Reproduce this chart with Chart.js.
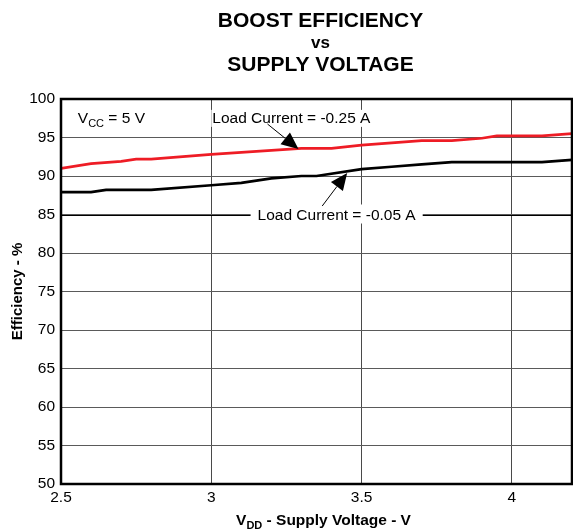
<!DOCTYPE html>
<html>
<head>
<meta charset="utf-8">
<script src="https://cdn.jsdelivr.net/npm/chart.js@4.4.0/dist/chart.umd.min.js"></script>
<style>
  html, body { margin: 0; padding: 0; background: #ffffff; }
  #wrap { width: 573px; height: 531px; position: relative; }
</style>
</head>
<body>
<div id="wrap"><canvas id="c" width="573" height="531"></canvas></div>
<script>
// ---- Data ----
const redVolts   = [2.5, 2.6, 2.7, 2.75, 2.8, 3.0, 3.3, 3.4, 3.5, 3.6, 3.7, 3.8, 3.9, 3.95, 4.1, 4.2];
const redEff     = [91.0, 91.6, 91.9, 92.2, 92.2, 92.8, 93.6, 93.6, 94.0, 94.3, 94.6, 94.6, 94.9, 95.2, 95.2, 95.5];
const blackVolts = [2.5, 2.6, 2.65, 2.8, 3.0, 3.1, 3.2, 3.3, 3.35, 3.5, 3.6, 3.7, 3.8, 4.1, 4.2];
const blackEff   = [87.9, 87.9, 88.2, 88.2, 88.8, 89.1, 89.7, 90.0, 90.0, 90.9, 91.2, 91.5, 91.8, 91.8, 92.1];
const xTicks = [2.5, 3, 3.5, 4];
const yTicks = [50, 55, 60, 65, 70, 75, 80, 85, 90, 95, 100];
const seriesLabels = ['Load Current = -0.25 A', 'Load Current = -0.05 A'];

const FONT = '"Liberation Sans", Arial, Helvetica, sans-serif';

function toXY(xs, ys) { return xs.map((x, i) => ({ x: x, y: ys[i] })); }

// draw text made of parts (for subscripts)
function richWidth(ctx, parts) {
  let w = 0;
  parts.forEach(p => { ctx.font = p.font; w += ctx.measureText(p.t).width; });
  return w;
}
function drawRich(ctx, parts, x, y, align) {
  const w = richWidth(ctx, parts);
  let cx = align === 'center' ? x - w / 2 : (align === 'right' ? x - w : x);
  ctx.textBaseline = 'alphabetic';
  ctx.textAlign = 'left';
  parts.forEach(p => {
    ctx.font = p.font;
    ctx.fillText(p.t, cx, y + (p.dy || 0));
    cx += ctx.measureText(p.t).width;
  });
  return w;
}

function arrow(ctx, x1, y1, x2, y2) {
  const ang = Math.atan2(y2 - y1, x2 - x1);
  const hl = 17, hw = 7.5;
  const bx = x2 - hl * Math.cos(ang), by = y2 - hl * Math.sin(ang);
  ctx.beginPath();
  ctx.moveTo(x1, y1);
  ctx.lineTo(bx, by);
  ctx.lineWidth = 1;
  ctx.strokeStyle = '#000';
  ctx.stroke();
  ctx.beginPath();
  ctx.moveTo(x2, y2);
  ctx.lineTo(bx + hw * Math.sin(ang), by - hw * Math.cos(ang));
  ctx.lineTo(bx - hw * Math.sin(ang), by + hw * Math.cos(ang));
  ctx.closePath();
  ctx.fillStyle = '#000';
  ctx.fill();
}

const decor = {
  id: 'decor',
  afterDatasetsDraw(chart) {
    const ctx = chart.ctx;
    const xs = chart.scales.x, ys = chart.scales.y;
    const a = chart.chartArea;
    ctx.save();
    ctx.fillStyle = '#000';
    // V_CC label
    drawRich(ctx, [
      { t: 'V', font: '15.5px ' + FONT },
      { t: 'CC', font: '11px ' + FONT, dy: 4 },
      { t: ' = 5 V', font: '15.5px ' + FONT }
    ], xs.getPixelForValue(2.556), ys.getPixelForValue(96.9), 'left');

    // label 1 with white background
    ctx.font = '15.5px ' + FONT;
    const l1x = xs.getPixelForValue(3.0) + 1, l1y = ys.getPixelForValue(96.9);
    const w1 = ctx.measureText(seriesLabels[0]).width;
    ctx.fillStyle = '#fff';
    ctx.fillRect(l1x - 1, l1y - 13, w1 + 4, 17);
    ctx.fillStyle = '#000';
    ctx.textAlign = 'left'; ctx.textBaseline = 'alphabetic';
    ctx.fillText(seriesLabels[0], l1x, l1y);

    // label 2 leader line on 85 and white box
    const y85 = ys.getPixelForValue(85);
    ctx.beginPath();
    ctx.moveTo(a.left, Math.round(y85) + 0.5);
    ctx.lineTo(a.right, Math.round(y85) + 0.5);
    ctx.lineWidth = 1; ctx.strokeStyle = '#000'; ctx.stroke();
    const l2c = xs.getPixelForValue(3.417);
    const w2 = ctx.measureText(seriesLabels[1]).width;
    ctx.fillStyle = '#fff';
    ctx.fillRect(l2c - w2 / 2 - 7, y85 - 10, w2 + 14, 19);
    ctx.fillStyle = '#000';
    ctx.textAlign = 'center';
    ctx.fillText(seriesLabels[1], l2c, y85 + 5.5);

    // arrows
    arrow(ctx, xs.getPixelForValue(3.187), ys.getPixelForValue(96.75), xs.getPixelForValue(3.29), ys.getPixelForValue(93.5));
    arrow(ctx, xs.getPixelForValue(3.369), ys.getPixelForValue(86.1), xs.getPixelForValue(3.452), ys.getPixelForValue(90.4));

    // frame
    ctx.lineWidth = 2.5;
    ctx.strokeStyle = '#000';
    ctx.strokeRect(a.left, a.top, a.right - a.left, a.bottom - a.top);

    // Titles
    ctx.fillStyle = '#000';
    ctx.textAlign = 'center';
    ctx.textBaseline = 'alphabetic';
    const tc = (a.left + a.right) / 2 + 4;
    ctx.font = 'bold 21px ' + FONT;
    ctx.fillText('BOOST EFFICIENCY', tc, 27);
    ctx.font = 'bold 17px ' + FONT;
    ctx.fillText('vs', tc, 47.5);
    ctx.font = 'bold 21px ' + FONT;
    ctx.fillText('SUPPLY VOLTAGE', tc, 71);

    // x axis title
    drawRich(ctx, [
      { t: 'V', font: 'bold 15.5px ' + FONT },
      { t: 'DD', font: 'bold 11px ' + FONT, dy: 4 },
      { t: ' - Supply Voltage - V', font: 'bold 15.5px ' + FONT }
    ], tc + 3, 525, 'center');

    // y axis title
    ctx.save();
    ctx.translate(22, (a.top + a.bottom) / 2);
    ctx.rotate(-Math.PI / 2);
    ctx.font = 'bold 15px ' + FONT;
    ctx.textAlign = 'center';
    ctx.textBaseline = 'alphabetic';
    ctx.fillText('Efficiency - %', 0, 0);
    ctx.restore();

    ctx.restore();
  }
};

new Chart(document.getElementById('c'), {
  type: 'line',
  data: {
    datasets: [
      { label: seriesLabels[0], data: toXY(redVolts, redEff), borderColor: '#ee1c25', borderWidth: 2.7, pointRadius: 0, tension: 0, fill: false },
      { label: seriesLabels[1], data: toXY(blackVolts, blackEff), borderColor: '#000000', borderWidth: 2.7, pointRadius: 0, tension: 0, fill: false }
    ]
  },
  options: {
    responsive: false,
    animation: false,
    events: [],
    layout: { padding: { top: 99, right: 1, left: 0, bottom: 0 } },
    plugins: { legend: { display: false }, tooltip: { enabled: false }, title: { display: false } },
    scales: {
      x: {
        type: 'linear', min: 2.5, max: 4.2,
        afterBuildTicks: s => { s.ticks = xTicks.map(v => ({ value: v })); },
        afterFit: s => { s.height = 47; },
        grid: { color: '#4a4a4a', lineWidth: 1, drawTicks: false },
        border: { display: false },
        ticks: { color: '#000', font: { family: FONT, size: 15.5 }, padding: 4, maxRotation: 0, callback: v => String(v) }
      },
      y: {
        type: 'linear', min: 50, max: 100,
        afterBuildTicks: s => { s.ticks = yTicks.map(v => ({ value: v })); },
        afterFit: s => { s.width = 61; },
        grid: { color: '#5a5a5a', lineWidth: 1, drawTicks: false },
        border: { display: false },
        ticks: { color: '#000', font: { family: FONT, size: 15.5 }, padding: 6, callback: v => String(v) }
      }
    }
  },
  plugins: [decor]
});
</script>
</body>
</html>
